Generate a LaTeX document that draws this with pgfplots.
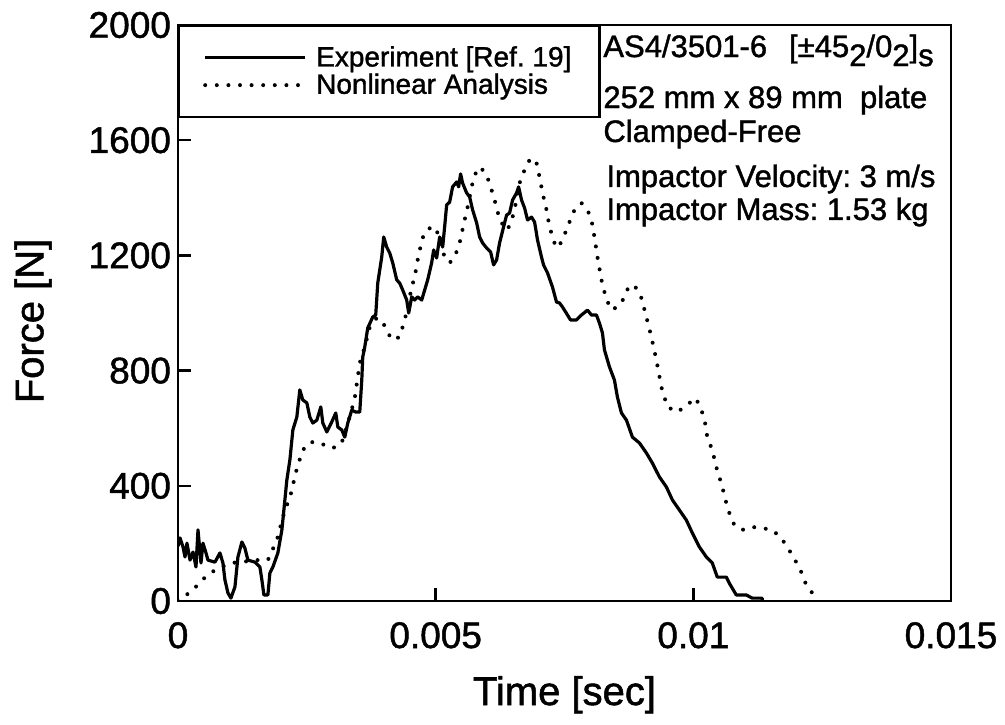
\documentclass[border=0pt]{standalone}
\usepackage{pgfplots}
\pgfplotsset{compat=1.18}
\usepackage{fontspec}
\setmainfont{Liberation Sans}[FakeBold=1.3]
\begin{document}
\frenchspacing
\begin{tikzpicture}
\begin{axis}[
  name=ax,
  scale only axis,
  width=386.5pt, height=288pt,
  xmin=0, xmax=0.015, ymin=0, ymax=2000,
  axis line style={line width=1.2pt},
  xtick={0,0.005,0.01,0.015},
  xticklabels={0,0.005,0.01,0.015},
  scaled x ticks=false,
  ytick={0,400,800,1200,1600,2000},
  /pgf/number format/assume math mode=true,
  /pgf/number format/1000 sep={},
  tick pos=left, tick align=inside,
  major tick length=6.5pt,
  tick style={line width=1.2pt,black},
  tick label style={font=\fontsize{18.5}{20}\selectfont},
  xticklabel style={anchor=base, yshift=-23.5pt},
  every axis x label/.style={at={(axis description cs:0.5,0)}, anchor=base, yshift=-52pt, font=\fontsize{20}{22}\selectfont},
  every axis y label/.style={at={(axis description cs:0,0.5)}, rotate=90, anchor=center, yshift=72.5pt, xshift=-4pt, font=\fontsize{20}{22}\selectfont},
  xlabel={Time [sec]},
  ylabel={Force [N]},
  legend style={at={(rel axis cs:0,1)}, anchor=north west, draw=black, line width=1.2pt,
    inner xsep=12pt, inner ysep=9.5pt, font=\fontsize{14}{16}\selectfont,
    nodes={inner ysep=0.5pt, inner xsep=2pt}, row sep=1pt},
  legend cell align=left,
  legend image code/.code={\draw[#1] (0pt,0pt) -- (50pt,0pt);},
]
\addplot[black, line width=1.6pt, line join=round] coordinates {
(0.000000,190) (0.000039,219) (0.000097,188) (0.000136,153) (0.000174,201)
(0.000233,142) (0.000291,170) (0.000349,118) (0.000388,247) (0.000446,132)
(0.000484,201) (0.000543,167) (0.000581,142) (0.000717,135) (0.000814,167)
(0.000872,132) (0.000911,73) (0.000969,28) (0.001027,10) (0.001105,49)
(0.001163,153) (0.001240,205) (0.001298,184) (0.001357,142) (0.001492,135)
(0.001589,118) (0.001628,73) (0.001667,21) (0.001744,21) (0.001783,97)
(0.001841,118) (0.001938,167) (0.002016,247) (0.002074,351) (0.002112,420)
(0.002171,490) (0.002229,594) (0.002306,639) (0.002364,733) (0.002422,698)
(0.002500,688) (0.002558,639) (0.002616,618) (0.002694,628) (0.002771,674)
(0.002810,618) (0.002888,587) (0.002984,622) (0.003062,653) (0.003101,604)
(0.003178,594) (0.003236,569) (0.003295,618) (0.003372,663) (0.003450,656)
(0.003527,656) (0.003566,767) (0.003585,847) (0.003624,882) (0.003682,948)
(0.003779,986) (0.003837,993) (0.003876,1104) (0.003953,1194) (0.003992,1264)
(0.004050,1229) (0.004109,1208) (0.004167,1174) (0.004244,1115) (0.004302,1104)
(0.004360,1080) (0.004438,1045) (0.004477,1000) (0.004535,1056) (0.004593,1045)
(0.004651,1056) (0.004729,1045) (0.004787,1080) (0.004845,1115) (0.004922,1174)
(0.004961,1219) (0.005019,1191) (0.005078,1264) (0.005136,1229) (0.005174,1299)
(0.005213,1375) (0.005271,1385) (0.005329,1438) (0.005407,1455) (0.005446,1438)
(0.005484,1483) (0.005523,1451) (0.005601,1417) (0.005659,1403) (0.005717,1358)
(0.005795,1313) (0.005853,1264) (0.005911,1243) (0.005988,1226) (0.006066,1212)
(0.006124,1167) (0.006182,1184) (0.006240,1243) (0.006318,1299) (0.006376,1340)
(0.006434,1347) (0.006492,1392) (0.006570,1417) (0.006609,1438) (0.006667,1392)
(0.006725,1365) (0.006783,1323) (0.006860,1333) (0.006919,1316) (0.006977,1253)
(0.007054,1194) (0.007093,1167) (0.007171,1139) (0.007267,1090) (0.007345,1038)
(0.007403,1035) (0.007461,1021) (0.007558,993) (0.007616,976) (0.007733,976)
(0.007829,993) (0.007946,1010) (0.008023,993) (0.008120,993) (0.008178,965)
(0.008236,931) (0.008275,872) (0.008372,813) (0.008469,767) (0.008527,708)
(0.008605,653) (0.008702,628) (0.008818,569) (0.008953,549) (0.009089,514)
(0.009205,479) (0.009341,431) (0.009477,396) (0.009593,351) (0.009729,316)
(0.009864,281) (0.009981,236) (0.010116,188) (0.010252,153) (0.010368,132)
(0.010465,83) (0.010640,83) (0.010698,62) (0.010833,21) (0.011027,21)
(0.011143,10) (0.011337,10) (0.011337,0)
};
\addlegendentry{\hspace{2.5pt}Experiment [Ref. 19]}
\addplot[black, line width=2pt, line cap=round, dash pattern=on 0pt off 5.8pt] coordinates {
(0.000000,0) (0.000291,38) (0.000465,73) (0.000659,101) (0.001008,132)
(0.001240,135) (0.001453,142) (0.001744,142) (0.001919,212) (0.002074,316)
(0.002171,358) (0.002306,460) (0.002422,524) (0.002558,552) (0.002752,550)
(0.002946,531) (0.003101,535) (0.003198,559) (0.003333,640) (0.003430,705)
(0.003527,826) (0.003624,882) (0.003721,951) (0.003857,983) (0.003973,969)
(0.004070,931) (0.004167,906) (0.004302,917) (0.004399,976) (0.004457,1021)
(0.004535,1090) (0.004593,1125) (0.004651,1184) (0.004729,1250) (0.004787,1281)
(0.004942,1302) (0.005039,1278) (0.005116,1229) (0.005174,1194) (0.005271,1174)
(0.005368,1194) (0.005465,1243) (0.005562,1323) (0.005620,1368) (0.005698,1438)
(0.005756,1479) (0.005853,1507) (0.005950,1490) (0.006008,1469) (0.006085,1427)
(0.006182,1368) (0.006240,1323) (0.006337,1299) (0.006395,1288) (0.006492,1333)
(0.006570,1392) (0.006628,1451) (0.006725,1497) (0.006841,1538) (0.006957,1521)
(0.007016,1472) (0.007074,1417) (0.007151,1358) (0.007209,1299) (0.007306,1243)
(0.007364,1226) (0.007461,1253) (0.007558,1299) (0.007694,1358) (0.007829,1382)
(0.007946,1358) (0.008023,1323) (0.008081,1264) (0.008140,1194) (0.008217,1115)
(0.008314,1045) (0.008430,1010) (0.008605,1035) (0.008760,1097) (0.008895,1087)
(0.008992,1052) (0.009089,986) (0.009186,917) (0.009283,837) (0.009380,743)
(0.009496,674) (0.009690,656) (0.009884,681) (0.010039,705) (0.010116,681)
(0.010213,635) (0.010271,569) (0.010368,524) (0.010446,465) (0.010504,431)
(0.010562,396) (0.010640,340) (0.010698,306) (0.010795,264) (0.010950,247)
(0.011143,257) (0.011337,253) (0.011531,247) (0.011705,219) (0.011860,177)
(0.011996,135) (0.012093,101) (0.012190,56) (0.012384,10) (0.012442,0)
};
\addlegendentry{\hspace{2.5pt}Nonlinear Analysis}
\begin{scope}[every node/.style={inner sep=0pt, anchor=base west, font=\fontsize{15.5}{17}\selectfont}]
\node at (rel axis cs:0.5498,0.9444) {AS4/3501-6\hspace{11pt}[\char"00B1 45\raisebox{-4.5pt}{2}/0\raisebox{-4.5pt}{2}]\raisebox{-4.5pt}{s}};
\node at (rel axis cs:0.5498,0.8559) {252 mm x 89 mm\ \ plate};
\node at (rel axis cs:0.5498,0.7969) {Clamped-Free};
\node at (rel axis cs:0.5537,0.7188) {Impactor Velocity: 3 m/s};
\node at (rel axis cs:0.5537,0.6615) {Impactor Mass: 1.53 kg};
\end{scope}
\end{axis}
\pgfresetboundingbox
\path[use as bounding box] ([xshift=-89pt,yshift=-61.5pt]ax.south west) rectangle ([xshift=27pt,yshift=12.5pt]ax.north east);
\end{tikzpicture}
\end{document}
